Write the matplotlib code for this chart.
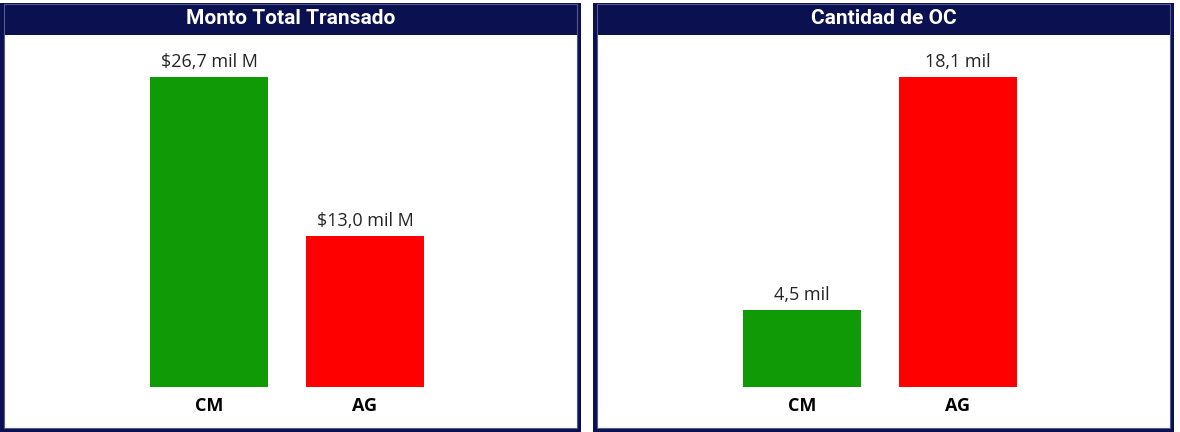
import matplotlib.pyplot as plt
from matplotlib.patches import Rectangle

# datos
categorias = ['CM', 'AG']
monto = [26.7, 13.0]          # miles de millones
monto_txt = ['$26,7 mil M', '$13,0 mil M']
cantidad = [4.5, 18.1]        # miles de OC
cantidad_txt = ['4,5 mil', '18,1 mil']
colores = ['#0f9a06', '#ff0000']
titulos = ['Monto Total Transado', 'Cantidad de OC']

W, H = 1180, 432
NAVY = '#0b1150'

fig = plt.figure(figsize=(W / 100, H / 100), dpi=100)
fig.patch.set_facecolor('white')


def box(x0, y0, x1, y1):
    # pixeles (origen arriba-izquierda) -> fraccion de figura
    return x0 / W, 1 - y1 / H, (x1 - x0) / W, (y1 - y0) / H


def panel(x0, x1, titulo, valores, textos):
    # marco azul y titulo
    l, b, w, h = box(x0, 3, x1, 432)
    fig.patches.append(Rectangle((l, b), w, h, transform=fig.transFigure,
                                 facecolor=NAVY, edgecolor='none', zorder=-5))
    l, b, w, h = box(x0 + 3.5, 3.5, x1 - 4, 428)
    fig.patches.append(Rectangle((l, b), w, h, transform=fig.transFigure,
                                 facecolor='none', edgecolor='#555a8c', lw=0.8, zorder=5))
    fig.text((x0 + x1) / 2 / W, 1 - 18.5 / H, titulo, color='white', fontsize=15,
             fontweight='semibold', family='Roboto', ha='center', va='center')

    # area del grafico
    ax = fig.add_axes(box(x0 + 4, 35, x1 - 4, 428))
    ax.set_zorder(1)
    ax.set_facecolor('white')
    for s in ax.spines.values():
        s.set_visible(False)
    ax.set_xticks([])
    ax.set_yticks([])

    m = max(valores)
    ax.set_xlim(-1.314, 2.359)
    ax.set_ylim(-41 / 310 * m, 352 / 310 * m)
    pos = range(len(categorias))
    ax.bar(pos, valores, width=0.756, color=colores)
    for i, (v, t) in enumerate(zip(valores, textos)):
        ax.annotate(t, (i, v), xytext=(0, 6), textcoords='offset pixels',
                    ha='center', va='bottom', fontsize=13, family='Open Sans', color='#252423')
        ax.annotate(categorias[i], (i, 0), xytext=(0, -19), textcoords='offset pixels',
                    ha='center', va='center', fontsize=13, fontweight='bold',
                    family='Open Sans', color='black')
    return ax


panel(0, 581, titulos[0], monto, monto_txt)
panel(593, 1174, titulos[1], cantidad, cantidad_txt)

fig.savefig('out.png', dpi=100)
